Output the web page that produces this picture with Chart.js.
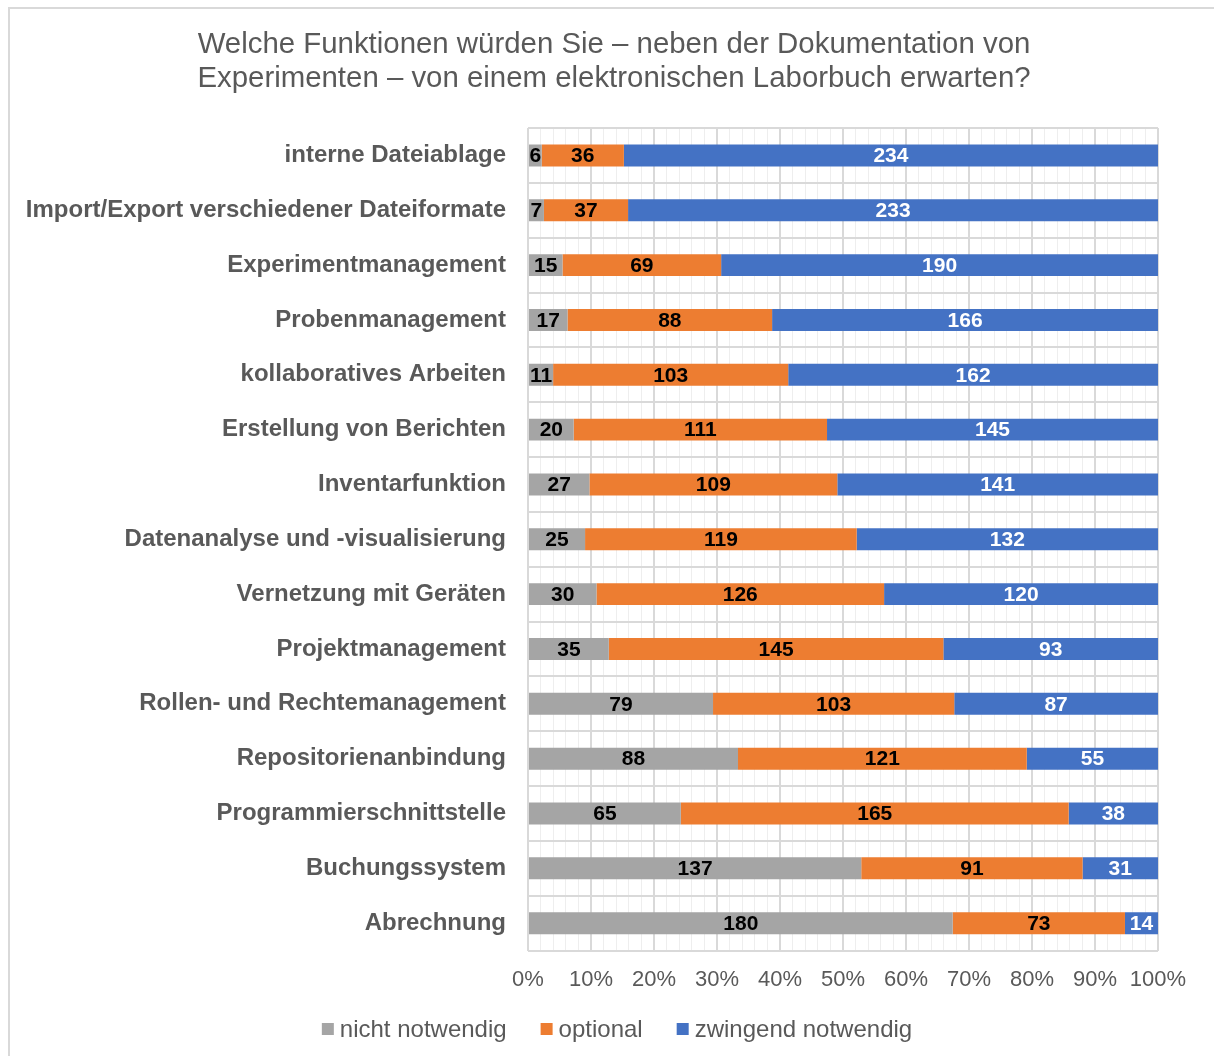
<!DOCTYPE html>
<html>
<head>
<meta charset="utf-8">
<script src="https://cdn.jsdelivr.net/npm/chart.js@4.4.1/dist/chart.umd.min.js"></script>
<style>
  html, body { margin: 0; padding: 0; background: #fff; overflow: hidden; }
  #frame { position: absolute; left: 8px; top: 7px; width: 1230px; height: 1070px; border: 2px solid #d9d9d9; }
  #wrap { position: absolute; left: 0; top: 0; width: 1214px; height: 1056px; }
</style>
</head>
<body>
<div id="frame"></div>
<div id="wrap"><canvas id="myChart"></canvas></div>
<script>
const chartTitle = [
  "Welche Funktionen würden Sie – neben der Dokumentation von",
  "Experimenten – von einem elektronischen Laborbuch erwarten?"
];
const categories = [
  "interne Dateiablage",
  "Import/Export verschiedener Dateiformate",
  "Experimentmanagement",
  "Probenmanagement",
  "kollaboratives Arbeiten",
  "Erstellung von Berichten",
  "Inventarfunktion",
  "Datenanalyse und -visualisierung",
  "Vernetzung mit Geräten",
  "Projektmanagement",
  "Rollen- und Rechtemanagement",
  "Repositorienanbindung",
  "Programmierschnittstelle",
  "Buchungssystem",
  "Abrechnung"
];
const nichtNotwendig = [6, 7, 15, 17, 11, 20, 27, 25, 30, 35, 79, 88, 65, 137, 180];
const optional = [36, 37, 69, 88, 103, 111, 109, 119, 126, 145, 103, 121, 165, 91, 73];
const zwingendNotwendig = [234, 233, 190, 166, 162, 145, 141, 132, 120, 93, 87, 55, 38, 31, 14];

const totals = categories.map((c, i) => nichtNotwendig[i] + optional[i] + zwingendNotwendig[i]);
const toPercent = (arr) => arr.map((v, i) => v / totals[i] * 100);

const fontFamily = "'Liberation Sans', Arial, sans-serif";
const textGrey = "#595959";

// labels with the counts in the middle of each segment
const countLabels = {
  id: "countLabels",
  afterDatasetsDraw(chart) {
    const ctx = chart.ctx;
    ctx.save();
    ctx.font = "bold 21px " + fontFamily;
    ctx.textAlign = "center";
    ctx.textBaseline = "middle";
    chart.data.datasets.forEach((ds, di) => {
      const meta = chart.getDatasetMeta(di);
      meta.data.forEach((bar, i) => {
        const cx = (bar.x + bar.base) / 2;
        ctx.fillStyle = ds.labelColor;
        ctx.fillText(ds.counts[i], cx, bar.y + 1);
      });
    });
    ctx.restore();
  }
};

// title is centred on the whole frame, not on the plot
const frameTitle = {
  id: "frameTitle",
  afterDraw(chart) {
    const ctx = chart.ctx;
    ctx.save();
    ctx.font = "29.4px " + fontFamily;
    ctx.fillStyle = textGrey;
    ctx.textAlign = "center";
    ctx.textBaseline = "middle";
    chartTitle.forEach((line, i) => ctx.fillText(line, 614, 45 + i * 34));
    ctx.restore();
  }
};

// legend drawn by hand so box/text gaps look like the original
const bottomLegend = {
  id: "bottomLegend",
  afterDraw(chart) {
    const ctx = chart.ctx;
    const box = 12, gap = 6, itemGap = 34;
    const y = 1029;
    ctx.save();
    ctx.font = "24px " + fontFamily;
    ctx.textBaseline = "middle";
    const items = chart.data.datasets.map((ds) => ({
      text: ds.label,
      color: ds.backgroundColor,
      w: box + gap + ctx.measureText(ds.label).width
    }));
    const total = items.reduce((s, it) => s + it.w, 0) + itemGap * (items.length - 1);
    let x = 617 - total / 2;
    items.forEach((it) => {
      ctx.fillStyle = it.color;
      ctx.fillRect(x, y - box / 2, box, box);
      ctx.fillStyle = textGrey;
      ctx.fillText(it.text, x + box + gap, y + 1);
      x += it.w + itemGap;
    });
    ctx.restore();
  }
};

const config = {
  type: "bar",
  data: {
    labels: categories,
    datasets: [
      {
        label: "nicht notwendig",
        data: toPercent(nichtNotwendig),
        counts: nichtNotwendig,
        backgroundColor: "#a5a5a5",
        labelColor: "#000000"
      },
      {
        label: "optional",
        data: toPercent(optional),
        counts: optional,
        backgroundColor: "#ed7d31",
        labelColor: "#000000"
      },
      {
        label: "zwingend notwendig",
        data: toPercent(zwingendNotwendig),
        counts: zwingendNotwendig,
        backgroundColor: "#4472c4",
        labelColor: "#ffffff"
      }
    ]
  },
  options: {
    indexAxis: "y",
    responsive: true,
    maintainAspectRatio: false,
    animation: false,
    layout: { padding: { left: 0, right: 56, top: 128, bottom: 47 } },
    datasets: {
      bar: { barPercentage: 0.4, categoryPercentage: 1.0, borderWidth: 0 }
    },
    scales: {
      x: {
        stacked: true,
        min: 0,
        max: 100,
        border: { display: false },
        grid: {
          drawTicks: false,
          color: (c) => (c.tick && c.tick.value % 10 === 0 ? "#d9d9d9" : "#eeeeee"),
          lineWidth: (c) => (c.tick && c.tick.value % 10 === 0 ? 2 : 1)
        },
        ticks: {
          stepSize: 2,
          autoSkip: false,
          maxRotation: 0,
          padding: 16,
          color: textGrey,
          font: { family: fontFamily, size: 22 },
          callback: (v) => (v % 10 === 0 ? v + "%" : "")
        }
      },
      y: {
        stacked: true,
        border: { display: false },
        grid: { offset: true, drawTicks: false, color: "#d9d9d9", lineWidth: 2 },
        ticks: {
          padding: 22,
          color: textGrey,
          font: { family: fontFamily, size: 24, weight: "bold" }
        },
        afterFit: (scale) => { scale.width = 528; }
      }
    },
    plugins: {
      title: { display: false },
      legend: { display: false },
      tooltip: { enabled: false }
    }
  },
  plugins: [countLabels, frameTitle, bottomLegend]
};

window.onload = () => {
  const myChart = new Chart(document.getElementById("myChart"), config);
};
</script>
</body>
</html>
